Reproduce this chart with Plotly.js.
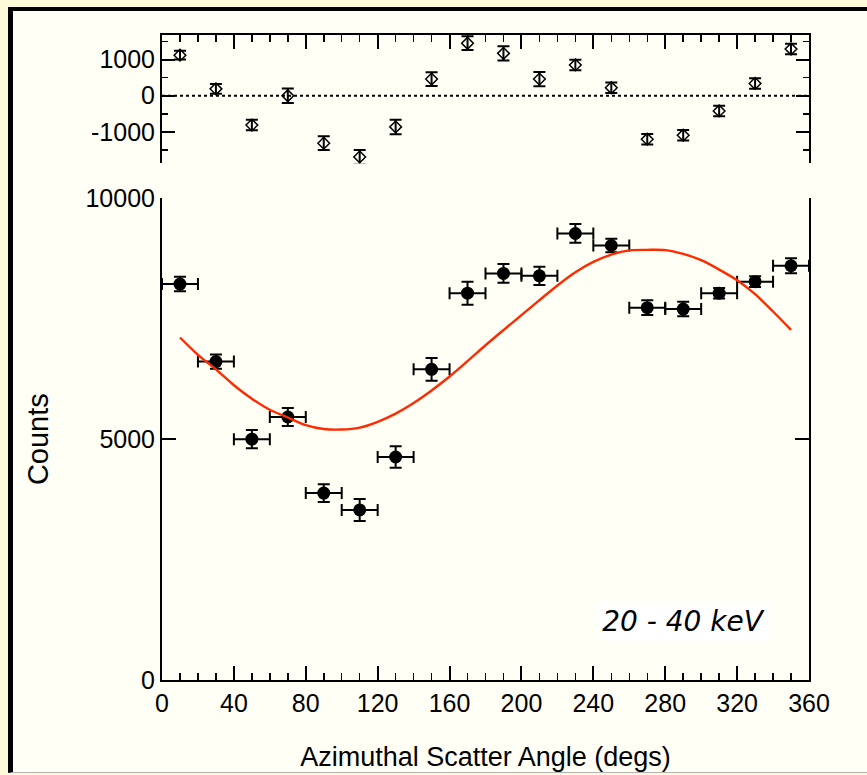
<!DOCTYPE html>
<html><head><meta charset="utf-8">
<script src="https://cdn.plot.ly/plotly-3.0.1.min.js"></script>
<style>
html,body{margin:0;padding:0;background:#fdfad9;width:867px;height:775px;overflow:hidden;}
#frame{position:absolute;left:8px;top:7px;width:900px;height:761px;background:#fffff5;border-left:5px solid #000;border-top:4px solid #000;border-bottom:1px solid #b4b4b4;}
#chart{position:absolute;left:0;top:0;width:867px;height:775px;}
</style></head>
<body><div id="frame"></div><div id="chart"></div>
<script>
// Bin centres (degrees)
const angles = [10,30,50,70,90,110,130,150,170,190,210,230,250,270,290,310,330,350];
// Bin half width (degrees)
const binHalfWidth = 10;
// Measured counts and errors
const counts   = [8220,6610,5000,5460,3880,3530,4630,6450,8030,8440,8390,9270,9020,7730,7700,8030,8270,8600];
const countErr = [150,150,190,185,185,230,225,235,240,195,190,195,140,155,150,110,110,155];
// Residuals (top panel)
const residuals = [1120,190,-810,0,-1310,-1690,-860,460,1450,1170,460,850,220,-1200,-1090,-420,340,1290];
const residErr  = [120,135,145,200,190,195,200,190,190,195,195,145,145,145,145,145,145,145];
// Fitted modulation curve
const fitAngles = [10,20,30,40,50,60,70,80,90,100,110,120,130,140,150,160,170,180,190,200,210,220,230,240,250,260,270,280,290,300,310,320,330,340,350];
const fitCounts = [7110,6750,6450,6120,5840,5610,5450,5290,5210,5200,5240,5360,5530,5750,6010,6300,6620,6950,7265,7575,7885,8190,8465,8680,8830,8920,8930,8925,8845,8715,8520,8300,8010,7650,7270];
// Axis ticks
const xTickVals = [0,40,80,120,160,200,240,280,320,360];
const xTickText = ['0','40','80','120','160','200','240','280','320','360'];
const xMinorVals = [10,20,30,50,60,70,90,100,110,130,140,150,170,180,190,210,220,230,250,260,270,290,300,310,330,340,350];
const yTickVals = [0,5000,10000];
const yTickText = ['0','5000','10000'];
const y2TickVals = [-1000,0,1000];
const y2TickText = ['-1000','0','1000'];
const y2MinorVals = [-1500,-500,500,1500];
const mainRange = [0,10000];
const residRange = [-1867,1677];
const xRange = [0,360];
const zeroLevel = 0;
const bandLabel = '20 - 40 keV';

const traces = [
  {x: angles, y: residuals, xaxis:'x2', yaxis:'y2', type:'scatter', mode:'markers',
   marker:{symbol:'diamond-open', size:9, color:'#000', line:{width:1.5, color:'#000'}},
   error_y:{type:'data', array:residErr, visible:true, color:'#000', thickness:2, width:6},
   cliponaxis:false, hoverinfo:'skip'},
  {x: angles, y: counts, xaxis:'x', yaxis:'y', type:'scatter', mode:'markers',
   marker:{symbol:'circle', size:13, color:'#000'},
   error_y:{type:'data', array:countErr, visible:true, color:'#000', thickness:2, width:6},
   error_x:{type:'constant', value:binHalfWidth, visible:true, color:'#000', thickness:2, width:6},
   cliponaxis:false, hoverinfo:'skip'},
  {x: fitAngles, y: fitCounts, xaxis:'x', yaxis:'y', type:'scatter', mode:'lines',
   line:{color:'#ff2a00', width:2.4, shape:'spline', smoothing:0.8}, hoverinfo:'skip'}
];

const axisCommon = {showgrid:false, zeroline:false, showline:true, linecolor:'#000', linewidth:2,
  ticks:'inside', tickcolor:'#000', tickwidth:2};

const layout = {
  width:867, height:775,
  paper_bgcolor:'rgba(0,0,0,0)', plot_bgcolor:'rgba(0,0,0,0)',
  margin:{l:162, r:58, t:35, b:95},
  showlegend:false,
  font:{family:'Liberation Sans, Arial, sans-serif', size:25, color:'#000'},
  xaxis: Object.assign({}, axisCommon, {
    domain:[0,1], range:xRange, anchor:'y', tickmode:'array', tickvals:xTickVals, ticktext:xTickText,
    ticklen:14, mirror:false,
    minor:{tickmode:'array', tickvals:xMinorVals, ticks:'inside', ticklen:7, tickwidth:1.5, tickcolor:'#000'},
    title:{text:'Azimuthal Scatter Angle (degs)', font:{size:27}, standoff:31}
  }),
  xaxis2: Object.assign({}, axisCommon, {
    domain:[0,1], range:xRange, anchor:'y2', side:'top', matches:'x', tickmode:'array', tickvals:xTickVals,
    showticklabels:false, ticklen:14, mirror:false,
    minor:{tickmode:'array', tickvals:xMinorVals, ticks:'inside', ticklen:7, tickwidth:1.5, tickcolor:'#000'}
  }),
  yaxis: Object.assign({}, axisCommon, {
    domain:[0,0.7468], range:mainRange, anchor:'x', tickmode:'array', tickvals:yTickVals, ticktext:yTickText,
    ticklen:14, mirror:'ticks',
    title:{text:'Counts', font:{size:29}, standoff:28}
  }),
  yaxis2: Object.assign({}, axisCommon, {
    domain:[0.801,1], range:residRange, anchor:'x2', tickmode:'array', tickvals:y2TickVals, ticktext:y2TickText,
    ticklen:13, mirror:'ticks',
    minor:{tickmode:'array', tickvals:y2MinorVals, ticks:'inside', ticklen:6, tickwidth:1.5, tickcolor:'#000'}
  }),
  shapes:[
    {type:'line', xref:'x2 domain', x0:0, x1:1, yref:'y2', y0:zeroLevel, y1:zeroLevel,
     line:{color:'#000', width:2, dash:'3px,3px'}, layer:'below'}
  ],
  annotations:[
    {text:bandLabel, xref:'x domain', yref:'y domain', x:0.806, y:0.122, xanchor:'center', yanchor:'middle',
     showarrow:false,
     font:{family:'DejaVu Sans, sans-serif', size:28, style:'italic', color:'#000'},
     bgcolor:'#ffffff', width:173, height:37, borderpad:0}
  ]
};

Plotly.newPlot('chart', traces, layout, {staticPlot:true, displayModeBar:false});
</script></body></html>
